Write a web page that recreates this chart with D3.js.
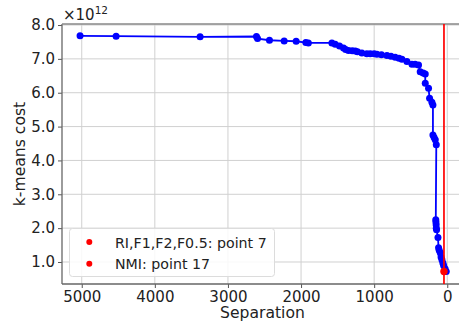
<!DOCTYPE html>
<html>
<head>
<meta charset="utf-8">
<script src="https://cdn.jsdelivr.net/npm/d3@7"></script>
<style>
  body { margin: 0; background: #fff; }
  text { font-family: "DejaVu Sans", sans-serif; fill: #222; }
</style>
</head>
<body>
<svg id="chart" width="459" height="326"></svg>
<script>
// separation (x) and k-means cost in units of 1e12 (y)
var separation = [5023, 4530, 3381, 2610, 2595, 2432, 2231, 2067, 1935, 1900,
  1578, 1533, 1474, 1419, 1390, 1351, 1300, 1259, 1228, 1168,
  1100, 1054, 1000, 962, 900, 825, 770, 712, 660, 620,
  552, 483, 440, 393, 370, 330, 301, 301, 256, 242,
  210, 196, 196, 180, 164, 150, 157, 155, 152, 150,
  146, 127, 119, 110, 96, 85, 73, 60, 50, 30, 14];
var cost = [7.68, 7.67, 7.65, 7.66, 7.60, 7.55, 7.53, 7.52, 7.48, 7.47,
  7.47, 7.43, 7.38, 7.32, 7.28, 7.25, 7.24, 7.23, 7.21, 7.17,
  7.15, 7.15, 7.15, 7.14, 7.12, 7.10, 7.08, 7.05, 7.02, 6.99,
  6.92, 6.84, 6.84, 6.82, 6.62, 6.58, 6.55, 6.28, 6.13, 5.84,
  5.72, 5.64, 4.75, 4.68, 4.61, 4.46, 2.25, 2.18, 2.10, 2.00,
  1.95, 1.72, 1.42, 1.35, 1.27, 1.15, 1.07, 0.97, 0.90, 0.80, 0.72];
var xTicks = [5000, 4000, 3000, 2000, 1000, 0];
var yTicks = [1, 2, 3, 4, 5, 6, 7, 8];
var bestSep = 45, bestCost = 0.72;
var legendLabels = ["RI,F1,F2,F0.5: point 7", "NMI: point 17"];

(function() {
  var svg = d3.select("#chart");
  var mLeft = 62, mRight = 467, mTop = 24, mBottom = 284;

  var x = d3.scaleLinear().domain([5270, -270]).range([mLeft, mRight]);
  var y = d3.scaleLinear().domain([0.35, 8.03]).range([mBottom, mTop]);

  // grid
  var g = svg.append("g");
  g.selectAll(".gx").data(xTicks).enter().append("line")
    .attr("x1", d => x(d)).attr("x2", d => x(d))
    .attr("y1", mTop).attr("y2", mBottom)
    .attr("stroke", "#d0d0d0").attr("stroke-width", 1);
  g.selectAll(".gy").data(yTicks).enter().append("line")
    .attr("x1", mLeft).attr("x2", mRight)
    .attr("y1", d => y(d)).attr("y2", d => y(d))
    .attr("stroke", "#d0d0d0").attr("stroke-width", 1);

  // axes
  var xAxis = d3.axisBottom(x).tickValues(xTicks).tickFormat(d3.format("d")).tickSize(4).tickPadding(3);
  var yAxis = d3.axisLeft(y).tickValues(yTicks).tickFormat(d3.format(".1f")).tickSize(4).tickPadding(3);
  var gx = svg.append("g").attr("transform", "translate(0," + mBottom + ")").call(xAxis);
  var gy = svg.append("g").attr("transform", "translate(" + mLeft + ",0)").call(yAxis);
  [gx, gy].forEach(function(a) {
    a.attr("font-size", 15).attr("font-family", "DejaVu Sans");
    a.select(".domain").remove();
    a.selectAll(".tick line").attr("stroke", "#555");
    a.selectAll("text").attr("fill", "#222");
  });

  // spines
  svg.append("line").attr("x1", mLeft).attr("x2", mLeft).attr("y1", mTop).attr("y2", mBottom)
    .attr("stroke", "#666").attr("stroke-width", 1.3);
  svg.append("line").attr("x1", mLeft).attr("x2", mRight).attr("y1", mBottom).attr("y2", mBottom)
    .attr("stroke", "#666").attr("stroke-width", 1.3);
  svg.append("line").attr("x1", mLeft).attr("x2", mRight).attr("y1", mTop).attr("y2", mTop)
    .attr("stroke", "#888").attr("stroke-width", 1.3);

  // data
  var pts = separation.map((s, i) => [s, cost[i]]);
  svg.append("path").datum(pts)
    .attr("d", d3.line().x(d => x(d[0])).y(d => y(d[1])))
    .attr("fill", "none").attr("stroke", "#0000ff").attr("stroke-width", 1.8);
  svg.selectAll(".pt").data(pts).enter().append("circle")
    .attr("cx", d => x(d[0])).attr("cy", d => y(d[1])).attr("r", 3.5)
    .attr("fill", "#0000ff");

  // chosen point
  svg.append("line").attr("x1", x(bestSep)).attr("x2", x(bestSep))
    .attr("y1", mTop).attr("y2", mBottom)
    .attr("stroke", "#ff0000").attr("stroke-width", 1.7);
  svg.append("circle").attr("cx", x(bestSep)).attr("cy", y(bestCost)).attr("r", 3.7)
    .attr("fill", "#ff0000");

  // legend
  var lg = svg.append("g");
  lg.append("rect").attr("x", 69.5).attr("y", 228.5).attr("width", 205).attr("height", 48)
    .attr("rx", 3).attr("fill", "#fff").attr("fill-opacity", 0.85)
    .attr("stroke", "#dcdcdc");
  legendLabels.forEach(function(t, i) {
    var yy = 242 + i * 21.7;
    lg.append("circle").attr("cx", 89.3).attr("cy", yy).attr("r", 3).attr("fill", "#ff0000");
    lg.append("text").attr("x", 115).attr("y", yy + 5.5).style("font-size", "14.2px").text(t);
  });

  // labels
  svg.append("text").attr("x", 262.5).attr("y", 318).attr("text-anchor", "middle")
    .style("font-size", "15.6px").text("Separation");
  svg.append("text").attr("transform", "translate(25," + ((mTop + mBottom) / 2) + ") rotate(-90)")
    .attr("text-anchor", "middle").style("font-size", "15.6px").text("k-means cost");
  var off = svg.append("text").attr("x", 63).attr("y", 20).style("font-size", "15px");
  off.append("tspan").text("\u00d710");
  off.append("tspan").attr("dy", -6).style("font-size", "10.5px").text("12");
})();
</script>
</body>
</html>
